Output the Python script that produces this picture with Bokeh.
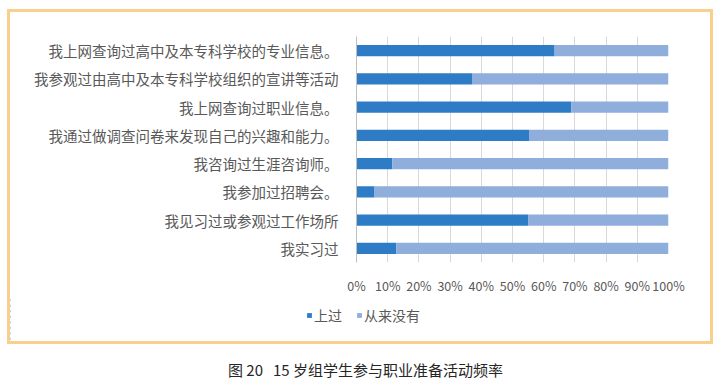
from bokeh.plotting import figure
from bokeh.layouts import column
from bokeh.models import (FactorRange, Range1d, NumeralTickFormatter, FixedTicker,
                          Legend, LegendItem, Label)
from bokeh.embed import file_html
from bokeh.resources import INLINE

categories = [
    "我上网查询过高中及本专科学校的专业信息。",
    "我参观过由高中及本专科学校组织的宣讲等活动",
    "我上网查询过职业信息。",
    "我通过做调查问卷来发现自己的兴趣和能力。",
    "我咨询过生涯咨询师。",
    "我参加过招聘会。",
    "我见习过或参观过工作场所",
    "我实习过",
]
shang_guo = [0.635, 0.372, 0.688, 0.553, 0.115, 0.058, 0.550, 0.127]
cong_lai_mei_you = [0.365, 0.628, 0.312, 0.447, 0.885, 0.942, 0.450, 0.873]
series_names = ["上过", "从来没有"]
x_ticks = [0, 0.1, 0.2, 0.3, 0.4, 0.5, 0.6, 0.7, 0.8, 0.9, 1.0]
caption = "图 20\u00a0\u00a0\u00a015 岁组学生参与职业准备活动频率"

FONT = "Noto Sans CJK SC"
DARK = "#2E7CC6"
LIGHT = "#8FAEDC"
COLORS = [DARK, LIGHT]

data = {"cat": categories, "s0": shang_guo, "s1": cong_lai_mei_you}

p = figure(width=700, height=285, output_backend="svg", toolbar_location=None,
           y_range=FactorRange(factors=categories[::-1]),
           x_range=Range1d(0, 1),
           min_border_left=346, min_border_right=42,
           min_border_top=24, min_border_bottom=28)
p.outline_line_color = None
p.background_fill_color = "white"
p.border_fill_alpha = 0

rs = p.hbar_stack(["s0", "s1"], y="cat", height=0.4, color=COLORS,
                  line_color=None, source=data)

p.ygrid.grid_line_color = None
p.xgrid.grid_line_color = "#D9D9D9"
p.xgrid.grid_line_width = 1

p.xaxis.ticker = FixedTicker(ticks=x_ticks)
p.xaxis.formatter = NumeralTickFormatter(format="0%")
p.xaxis.axis_line_color = None
p.xaxis.major_tick_line_color = None
p.xaxis.minor_tick_line_color = None
p.xaxis.major_label_text_font = FONT
p.xaxis.major_label_text_font_size = "12.5px"
p.xaxis.major_label_text_color = "#595959"
p.xaxis.major_label_standoff = 7

p.yaxis.axis_line_color = "#BFBFBF"
p.yaxis.major_tick_line_color = None
p.yaxis.minor_tick_line_color = None
p.yaxis.major_label_text_font = FONT
p.yaxis.major_label_text_font_size = "14.5px"
p.yaxis.major_label_text_color = "#595959"
p.yaxis.major_label_standoff = 12

# legend strip: same stacked series, drawn outside its visible range so that
# only the legend (swatch + label) shows
lf = figure(width=700, height=44, output_backend="svg", toolbar_location=None,
            x_range=Range1d(2, 3), y_range=FactorRange(factors=categories[::-1]),
            x_axis_location=None, y_axis_location=None,
            min_border=0, min_border_left=0, min_border_right=0,
            min_border_top=0, min_border_bottom=0)
lf.grid.visible = False
lf.outline_line_color = None
lf.border_fill_alpha = 0
lf.background_fill_alpha = 0
lrs = lf.hbar_stack(["s0", "s1"], y="cat", height=0.4, color=COLORS,
                    line_color=None, source=data)
legend = Legend(items=[LegendItem(label=series_names[i], renderers=[lrs[i]]) for i in range(2)],
                orientation="horizontal", location=(296, 16),
                glyph_width=6, glyph_height=6, padding=0, margin=0, spacing=14,
                label_text_font=FONT, label_text_font_size="14px",
                label_text_color="#595959", border_line_color=None,
                background_fill_alpha=0, label_standoff=2)
lf.add_layout(legend, "center")

framed = column(p, column(lf), styles={"border": "3px solid #F8CF8E"}, margin=(9, 0, 0, 7))

cf = figure(width=720, height=46, output_backend="svg", toolbar_location=None,
            x_range=Range1d(0, 720), y_range=Range1d(0, 46),
            x_axis_location=None, y_axis_location=None,
            min_border=0, min_border_left=0, min_border_right=0,
            min_border_top=0, min_border_bottom=0)
cf.grid.visible = False
cf.outline_line_color = None
cf.add_layout(Label(x=365, y=21, x_units="screen", y_units="screen", text=caption,
                    text_align="center", text_baseline="middle", text_font=FONT,
                    text_font_size="15px", text_color="#262626"))

layout = column(framed, cf)
open("out.html", "w").write(file_html(layout, INLINE))
